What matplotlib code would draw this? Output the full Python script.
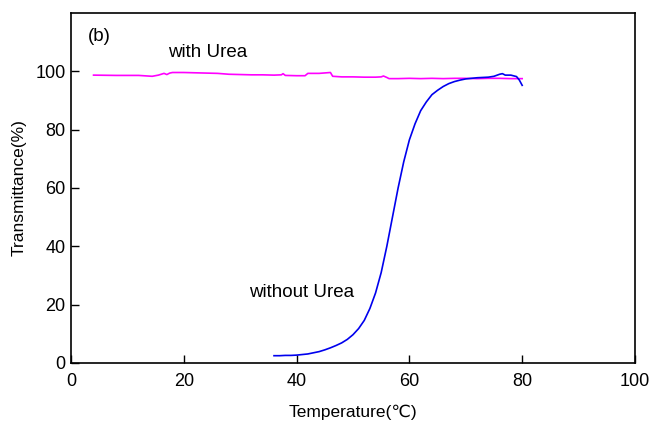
import matplotlib
matplotlib.use("Agg")
import matplotlib.pyplot as plt

plt.rcParams["font.family"] = ["Liberation Sans", "DejaVu Sans"]

# with Urea (magenta)
urea_t = [4, 8, 12, 14.4, 15.5, 16.5, 17.0, 17.5, 18, 20, 22, 24, 26, 28, 30, 32, 34,
          36, 37.3, 37.6, 38, 40, 41.5, 42, 44, 46, 46.4, 48, 50, 52, 54, 55, 55.4,
          56, 56.4, 58, 60, 62, 64, 66, 68, 70, 72, 74, 76, 78, 80]
urea_y = [98.7, 98.6, 98.6, 98.3, 98.7, 99.3, 98.9, 99.4, 99.6, 99.6, 99.5, 99.4, 99.3,
          99.0, 98.9, 98.8, 98.8, 98.7, 98.8, 99.2, 98.6, 98.5, 98.5, 99.3, 99.3, 99.6,
          98.3, 98.1, 98.1, 98.0, 98.0, 98.1, 98.4, 97.9, 97.5, 97.5, 97.6, 97.5, 97.6,
          97.5, 97.6, 97.6, 97.5, 97.6, 97.6, 97.5, 97.5]

# without Urea (blue)
plain_t = [36, 37, 38, 39, 40, 41, 42, 43, 44, 45, 46, 47, 48, 49, 50, 51, 52, 53, 54,
           55, 56, 57, 58, 59, 60, 61, 62, 63, 64, 65, 66, 67, 68, 69, 70, 71, 72, 73,
           74, 75, 76, 76.5, 77, 78, 79, 79.5, 80]
plain_y = [2.5, 2.5, 2.6, 2.6, 2.7, 2.9, 3.1, 3.5, 3.9, 4.5, 5.2, 6.0, 6.9, 8.1, 9.7,
           11.8, 14.6, 18.7, 24.0, 31.0, 40.0, 50.0, 60.0, 69.0, 76.5, 82.0, 86.5, 89.5,
           92.0, 93.5, 94.8, 95.8, 96.5, 97.0, 97.4, 97.6, 97.8, 97.9, 98.0, 98.3, 99.0,
           99.2, 98.7, 98.7, 98.2, 97.0, 95.2]

fig = plt.figure(figsize=(6.53, 4.25), dpi=100)
ax = fig.add_axes([0.1087, 0.1459, 0.8637, 0.8235])

ax.plot(urea_t, urea_y, color="#ff00ff", lw=1.2)
ax.plot(plain_t, plain_y, color="#0000ee", lw=1.2)

ax.set_xlim(0, 100)
ax.set_ylim(0, 120)
ax.set_xticks(range(0, 101, 20))
ax.set_yticks(range(0, 101, 20))
ax.tick_params(direction="in", length=6, width=1.0, labelsize=13, pad=4,
               top=False, right=False)
ax.tick_params(axis="x", pad=7)
for s in ax.spines.values():
    s.set_linewidth(1.2)

ax.set_xlabel("Temperature(\u2103)", fontsize=12.5, labelpad=11)
ax.set_ylabel("Transmittance(%)", fontsize=12.5, labelpad=6)

ax.text(3.0, 112, "(b)", fontsize=13.5, va="center")
ax.text(17.2, 106.5, "with Urea", fontsize=13.5, va="center")
ax.text(31.6, 24, "without Urea", fontsize=13.5, va="center")

fig.savefig("out.png", dpi=100)
